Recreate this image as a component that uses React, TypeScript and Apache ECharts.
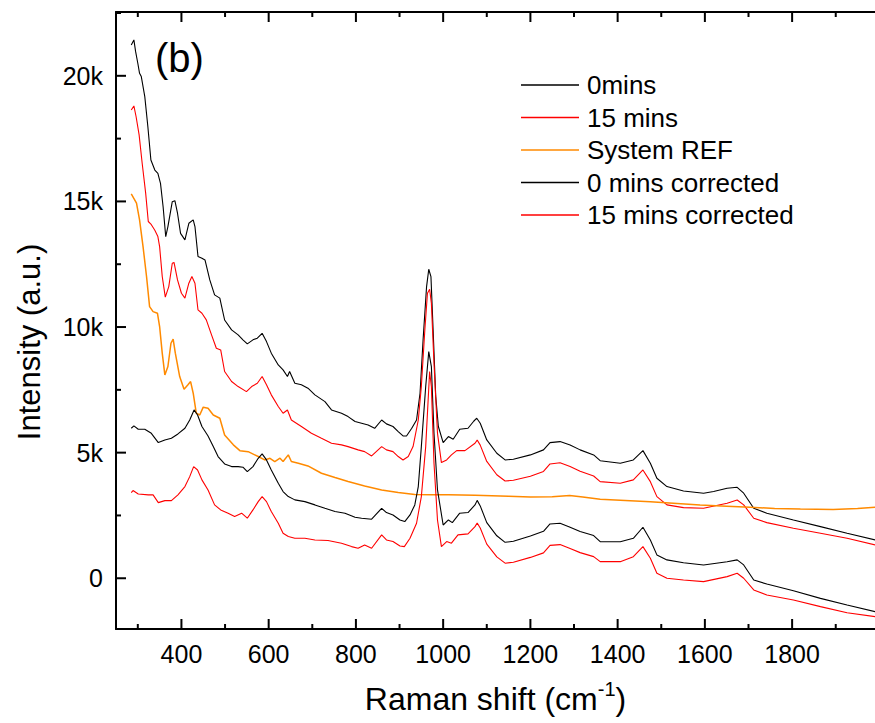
import React, { useEffect, useRef } from "react";
import * as echarts from "echarts";

// Raman shift (cm-1) / intensity pairs
const mins0: [number, number][] = [
  [285, 21230], [291, 21430], [295, 20960], [300, 20500], [304, 20100], [308, 19970], [316, 19170], [323, 17980],
  [330, 16650], [339, 16250], [346, 16120], [352, 15720], [358, 14790], [364, 13600], [369, 14000], [379, 14990],
  [385, 15030], [391, 14530], [398, 13730], [408, 13470], [417, 14130], [427, 14265], [431, 14000], [438, 12805],
  [447, 12740], [454, 12670], [465, 11875], [476, 11280], [488, 11150], [499, 10280], [515, 9885], [530, 9690],
  [541, 9490], [551, 9330], [564, 9490], [574, 9555], [585, 9750], [595, 9420], [606, 8960], [622, 8490],
  [633, 8295], [643, 8030], [648, 8230], [660, 7760], [675, 7700], [690, 7565], [706, 7300], [729, 7030],
  [744, 6700], [767, 6570], [782, 6435], [798, 6240], [813, 6170], [828, 6100], [843, 5970], [859, 6300],
  [870, 6145], [885, 6040], [897, 5840], [908, 5665], [916, 5665], [928, 5970], [939, 6300], [947, 7365],
  [954, 9490], [962, 11610], [967, 12300], [972, 12010], [977, 9885], [983, 7230], [989, 6040], [1000, 5400],
  [1012, 5640], [1023, 5535], [1038, 5930], [1057, 5970], [1070, 6250], [1077, 6370], [1085, 6170], [1100, 5505],
  [1123, 4975], [1142, 4710], [1161, 4740], [1200, 4910], [1230, 5110], [1245, 5400], [1268, 5440], [1291, 5305],
  [1314, 5110], [1345, 4910], [1360, 4680], [1406, 4580], [1436, 4710], [1458, 5080], [1475, 4580], [1490, 3980],
  [1513, 3650], [1551, 3475], [1597, 3385], [1620, 3450], [1651, 3580], [1674, 3620], [1689, 3385], [1712, 2785],
  [1742, 2590], [1803, 2320], [1865, 2055], [1926, 1790], [1991, 1525],
];

const mins15: [number, number][] = [
  [285, 18640], [291, 18800], [296, 18380], [303, 17650], [310, 16520], [318, 15330], [324, 14200], [330, 14100],
  [339, 13850], [346, 13600], [350, 13200], [356, 12010], [363, 11190], [371, 11610], [379, 12540], [383, 12570],
  [391, 11875], [400, 11345], [408, 11150], [417, 11745], [424, 12010], [431, 11745], [438, 10680], [447, 10550],
  [457, 10285], [469, 9690], [480, 9155], [490, 9090], [499, 8230], [515, 7830], [530, 7630], [549, 7430],
  [561, 7630], [574, 7760], [585, 8030], [595, 7700], [606, 7300], [622, 6835], [633, 6570], [643, 6700],
  [652, 6300], [675, 6040], [698, 5770], [721, 5570], [744, 5375], [767, 5310], [782, 5240], [805, 5110],
  [820, 5040], [836, 4870], [859, 5240], [870, 5110], [885, 5040], [897, 4845], [908, 4710], [920, 4845],
  [931, 5240], [943, 6300], [950, 7630], [958, 9885], [964, 11345], [969, 11505], [973, 10950], [979, 8560],
  [987, 5770], [996, 4605], [1008, 4710], [1019, 4910], [1031, 5080], [1050, 5080], [1073, 5375], [1078, 5500],
  [1085, 5300], [1100, 4650], [1123, 4120], [1142, 3870], [1161, 3900], [1200, 4060], [1230, 4250], [1245, 4550],
  [1268, 4600], [1291, 4450], [1314, 4260], [1345, 4070], [1360, 3845], [1406, 3780], [1436, 3915], [1458, 4310],
  [1475, 3845], [1490, 3250], [1513, 2920], [1551, 2810], [1597, 2785], [1651, 2985], [1674, 3115], [1689, 2920],
  [1712, 2390], [1742, 2215], [1803, 1990], [1865, 1790], [1926, 1590], [1991, 1325],
];

const systemRef: [number, number][] = [
  [285, 15300], [297, 14930], [304, 14265], [312, 13200], [320, 12010], [327, 10815], [335, 10615], [345, 10550],
  [350, 10020], [356, 8960], [362, 8095], [369, 8430], [376, 9355], [381, 9515], [386, 8960], [396, 8030],
  [406, 7525], [415, 7700], [421, 7830], [427, 7365], [434, 6570], [442, 6500], [450, 6810], [461, 6770],
  [473, 6500], [488, 6370], [499, 5705], [519, 5310], [534, 5080], [553, 5040], [576, 4845], [591, 4710],
  [603, 4775], [614, 4645], [626, 4780], [633, 4645], [645, 4910], [652, 4645], [668, 4580], [690, 4470],
  [721, 4180], [752, 4010], [782, 3850], [820, 3675], [859, 3515], [897, 3410], [935, 3330], [974, 3320],
  [1012, 3320], [1073, 3300], [1150, 3260], [1200, 3230], [1250, 3240], [1290, 3290], [1320, 3230], [1360, 3145],
  [1475, 3050], [1589, 2918], [1650, 2870], [1704, 2826], [1760, 2780], [1819, 2760], [1894, 2740], [1950, 2780],
  [1991, 2826],
];

const mins0Corrected: [number, number][] = [
  [285, 5970], [291, 6065], [301, 5930], [316, 5930], [331, 5770], [347, 5400], [362, 5505], [377, 5575],
  [392, 5745], [408, 5970], [419, 6300], [429, 6700], [437, 6500], [447, 6040], [461, 5665], [473, 5240],
  [484, 4845], [499, 4550], [515, 4445], [530, 4445], [541, 4420], [551, 4245], [564, 4445], [576, 4775],
  [585, 4950], [595, 4710], [606, 4310], [622, 3780], [633, 3450], [645, 3250], [660, 3120], [683, 3050],
  [706, 2920], [729, 2785], [752, 2655], [775, 2590], [798, 2430], [813, 2390], [836, 2350], [859, 2785],
  [870, 2615], [885, 2520], [901, 2320], [912, 2255], [924, 2520], [935, 2920], [943, 3650], [950, 5240],
  [960, 7630], [967, 9020], [973, 8425], [979, 5770], [987, 3515], [1000, 2120], [1012, 2320], [1021, 2215],
  [1038, 2590], [1057, 2615], [1073, 2920], [1078, 3100], [1085, 2880], [1100, 2215], [1123, 1690], [1142, 1430],
  [1161, 1470], [1200, 1680], [1230, 1870], [1245, 2160], [1268, 2190], [1291, 2030], [1314, 1860], [1345, 1700],
  [1360, 1455], [1406, 1455], [1436, 1590], [1458, 2030], [1475, 1525], [1490, 930], [1513, 730], [1551, 620],
  [1597, 530], [1651, 660], [1674, 730], [1689, 530], [1712, -70], [1742, -230], [1803, -495], [1865, -800],
  [1926, -1065], [1991, -1330],
];

const mins15Corrected: [number, number][] = [
  [285, 3410], [289, 3490], [301, 3355], [324, 3320], [335, 3320], [347, 3010], [362, 3090], [377, 3090],
  [392, 3320], [408, 3650], [419, 4045], [428, 4445], [437, 4310], [447, 3915], [461, 3515], [476, 2920],
  [490, 2720], [507, 2590], [522, 2455], [538, 2590], [551, 2390], [564, 2720], [576, 3050], [585, 3250],
  [595, 3050], [606, 2655], [622, 2190], [633, 1790], [645, 1660], [660, 1590], [683, 1590], [706, 1525],
  [736, 1500], [767, 1395], [790, 1260], [805, 1195], [820, 1325], [836, 1195], [859, 1725], [870, 1525],
  [885, 1460], [901, 1285], [911, 1260], [924, 1590], [939, 2190], [950, 3250], [960, 5240], [969, 8230],
  [973, 7630], [979, 4580], [987, 2320], [996, 1260], [1008, 1460], [1019, 1395], [1034, 1725], [1057, 1765],
  [1073, 2055], [1078, 2200], [1085, 2000], [1100, 1360], [1123, 850], [1142, 600], [1161, 640], [1200, 830],
  [1230, 1010], [1245, 1310], [1268, 1340], [1291, 1180], [1314, 1020], [1345, 860], [1360, 660], [1406, 660],
  [1436, 860], [1458, 1260], [1475, 795], [1490, 200], [1513, 0], [1551, -70], [1597, -135], [1651, 65],
  [1674, 200], [1689, 0], [1712, -465], [1742, -665], [1803, -865], [1865, -1130], [1926, -1370], [1991, -1530],
];

const seriesNames = ["0mins", "15 mins", "System REF", "0 mins corrected", "15 mins corrected"];

// axis ranges and tick values (data units)
const xRange = [250, 1990];
const yRange = [-2020, 22540];
const xMajorTicks = [400, 600, 800, 1000, 1200, 1400, 1600, 1800];
const xMinorTicks = [300, 500, 700, 900, 1100, 1300, 1500, 1700, 1900];
const yMajorTicks = [0, 5000, 10000, 15000, 20000];
const yMinorTicks = [2500, 7500, 12500, 17500, 22500];

const FONT = '"Liberation Sans", Arial, sans-serif';
const W = 875;
const H = 723;
const GRID = { left: 116, right: 0, top: 12, bottom: 94 };

export default function App() {
  const ref = useRef<HTMLDivElement>(null);
  useEffect(() => {
    if (!ref.current) return;
    const chart = echarts.init(ref.current, undefined, { renderer: "svg" });
    const axisLine = { show: true, onZero: false, lineStyle: { color: "#000", width: 2 } };
    const hidden = { show: false };

    // linear maps of the grid (identical to the axes' scales)
    const plotL = GRID.left;
    const plotR = W - GRID.right;
    const plotT = GRID.top;
    const plotB = H - GRID.bottom;
    const sx = (v: number) => plotL + ((v - xRange[0]) / (xRange[1] - xRange[0])) * (plotR - plotL);
    const sy = (v: number) => plotB - ((v - yRange[0]) / (yRange[1] - yRange[0])) * (plotB - plotT);

    // tick marks as filled rectangles (2 px wide)
    const ticks: any[] = [];
    const rect = (x: number, y: number, w: number, h: number) => ({
      type: "rect",
      z: 100,
      silent: true,
      shape: { x, y, width: w, height: h },
      style: { fill: "#000", stroke: null },
    });
    const addX = (vals: number[], len: number) =>
      vals.forEach((v) => {
        ticks.push(rect(sx(v) - 1, plotB - len, 2, len));
        ticks.push(rect(sx(v) - 1, plotT, 2, len));
      });
    const addY = (vals: number[], len: number) =>
      vals.forEach((v) => {
        ticks.push(rect(plotL, sy(v) - 1, len, 2));
      });
    addX(xMajorTicks, 10);
    addX(xMinorTicks, 5);
    addY(yMajorTicks, 10);
    addY(yMinorTicks, 5);

    const data = [mins0, mins15, systemRef, mins0Corrected, mins15Corrected];
    const colors = ["#000000", "#ff0000", "#ff8a00", "#000000", "#ff0000"];
    const widths = [1.1, 1.1, 1.5, 1.1, 1.1];
    chart.setOption({
      animation: false,
      backgroundColor: "#ffffff",
      grid: { ...GRID, containLabel: false },
      legend: {
        data: seriesNames,
        orient: "vertical",
        left: 521,
        top: 72,
        padding: 0,
        icon: "rect",
        itemWidth: 58,
        itemHeight: 1.5,
        itemGap: 6.5,
        selectedMode: false,
        textStyle: { fontSize: 26, color: "#000", fontFamily: FONT, padding: [0, 0, 0, 3] },
      },
      xAxis: [
        {
          type: "value",
          min: xRange[0],
          max: xRange[1],
          splitNumber: 9,
          splitLine: hidden,
          gridIndex: 0,
          position: "bottom",
          axisLine,
          axisTick: hidden,
          axisLabel: {
            customValues: xMajorTicks,
            fontSize: 25,
            color: "#000",
            fontFamily: FONT,
            margin: 12,
            formatter: (v: number) => String(v),
          },
          name: "{a|Raman shift (cm}{s|-1}{a|)}",
          nameLocation: "middle",
          nameGap: 50,
          nameTextStyle: {
            rich: {
              a: { fontSize: 32, fontFamily: FONT, color: "#000", lineHeight: 40 },
              s: { fontSize: 20, fontFamily: FONT, color: "#000", lineHeight: 22, verticalAlign: "top" },
            },
          },
        },
        {
          type: "value",
          min: xRange[0],
          max: xRange[1],
          splitLine: hidden,
          gridIndex: 0,
          position: "top",
          axisLine,
          axisTick: hidden,
          axisLabel: hidden,
        },
      ],
      yAxis: [
        {
          type: "value",
          min: yRange[0],
          max: yRange[1],
          splitNumber: 5,
          splitLine: hidden,
          gridIndex: 0,
          position: "left",
          axisLine,
          axisTick: hidden,
          axisLabel: {
            customValues: yMajorTicks,
            fontSize: 25,
            color: "#000",
            fontFamily: FONT,
            margin: 13,
            formatter: (v: number) => (v === 0 ? "0" : `${v / 1000}k`),
          },
        },
      ],
      graphic: [
        {
          type: "text",
          x: 155,
          y: 58,
          style: { text: "(b)", font: `40px ${FONT}`, fill: "#000", align: "left", verticalAlign: "middle", textAlign: "left", textVerticalAlign: "middle" },
        },
        {
          type: "text",
          x: 29,
          y: 342,
          rotation: Math.PI / 2,
          style: { text: "Intensity (a.u.)", font: `31px ${FONT}`, fill: "#000", align: "center", verticalAlign: "middle", textAlign: "center", textVerticalAlign: "middle" },
        },
        ...ticks,
      ],
      series: seriesNames.map((name, i) => ({
        name,
        type: "line",
        xAxisIndex: 0,
        yAxisIndex: 0,
        data: data[i],
        symbol: "none",
        showSymbol: false,
        silent: true,
        clip: true,
        lineStyle: { color: colors[i], width: widths[i] },
        itemStyle: { color: colors[i] },
      })),
    });
    return () => chart.dispose();
  }, []);
  return (
    <div
      ref={ref}
      style={{ position: "fixed", left: 0, top: 0, width: W, height: H, background: "#fff" }}
    />
  );
}
